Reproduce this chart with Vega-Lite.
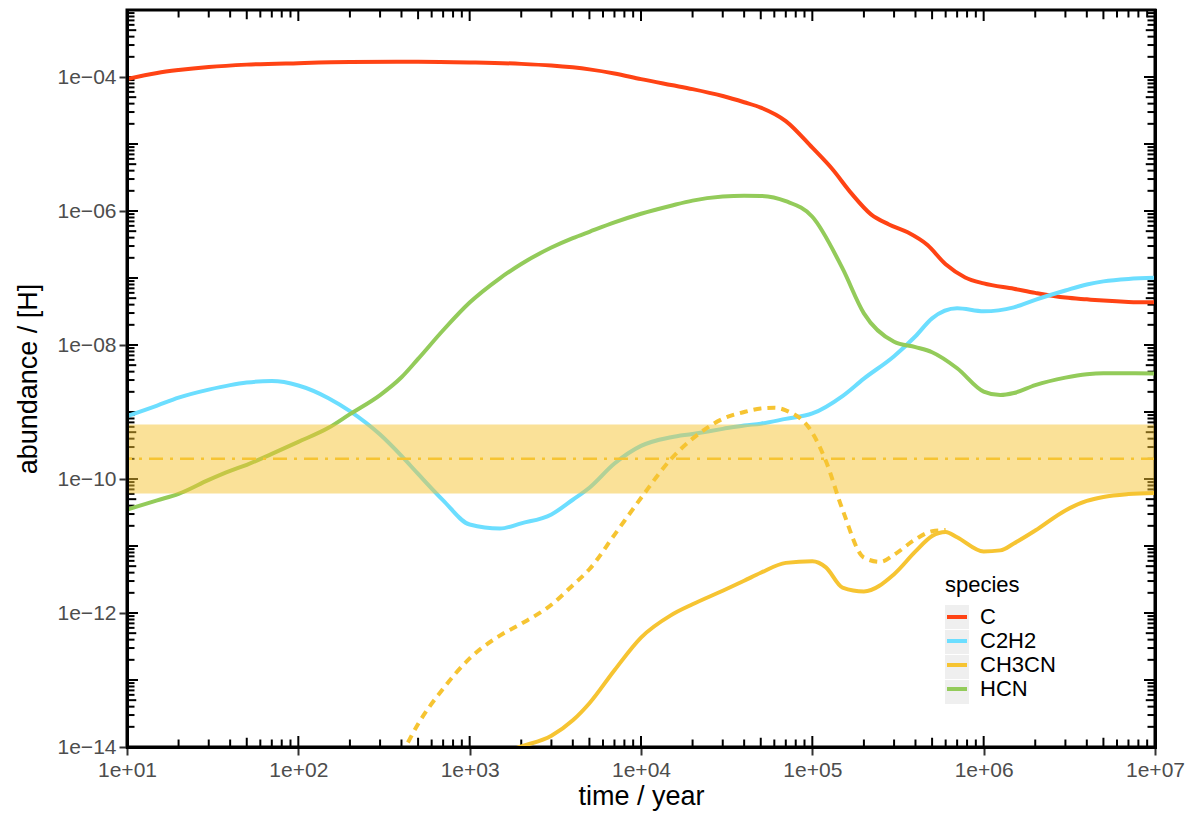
{
  "$schema": "https://vega.github.io/schema/vega-lite/v6.json",
  "width": 1028,
  "height": 737,
  "autosize": {"type": "none"},
  "padding": {"left": 127, "top": 10, "right": 44, "bottom": 67},
  "background": "white",
  "config": {"view": {"stroke": "black", "strokeWidth": 3}, "font": "Liberation Sans", "axis": {"grid": false}},
  "datasets": {
    "keys": [{"species": "C"}, {"species": "C2H2"}, {"species": "CH3CN"}, {"species": "HCN"}],
    "band": [{"lo": 6.1e-11, "hi": 6.5e-10, "mid": 2e-10}],
    "xticks": [
      {"v": 10, "k": "major"}, {"v": 20, "k": "minor"}, {"v": 30, "k": "minor"}, {"v": 40, "k": "minor"}, {"v": 50, "k": "medium"}, {"v": 60, "k": "minor"}, {"v": 70, "k": "minor"}, {"v": 80, "k": "minor"}, {"v": 90, "k": "minor"},
      {"v": 100, "k": "major"}, {"v": 200, "k": "minor"}, {"v": 300, "k": "minor"}, {"v": 400, "k": "minor"}, {"v": 500, "k": "medium"}, {"v": 600, "k": "minor"}, {"v": 700, "k": "minor"}, {"v": 800, "k": "minor"}, {"v": 900, "k": "minor"},
      {"v": 1000, "k": "major"}, {"v": 2000, "k": "minor"}, {"v": 3000, "k": "minor"}, {"v": 4000, "k": "minor"}, {"v": 5000, "k": "medium"}, {"v": 6000, "k": "minor"}, {"v": 7000, "k": "minor"}, {"v": 8000, "k": "minor"}, {"v": 9000, "k": "minor"},
      {"v": 10000, "k": "major"}, {"v": 20000, "k": "minor"}, {"v": 30000, "k": "minor"}, {"v": 40000, "k": "minor"}, {"v": 50000, "k": "medium"}, {"v": 60000, "k": "minor"}, {"v": 70000, "k": "minor"}, {"v": 80000, "k": "minor"}, {"v": 90000, "k": "minor"},
      {"v": 100000, "k": "major"}, {"v": 200000, "k": "minor"}, {"v": 300000, "k": "minor"}, {"v": 400000, "k": "minor"}, {"v": 500000, "k": "medium"}, {"v": 600000, "k": "minor"}, {"v": 700000, "k": "minor"}, {"v": 800000, "k": "minor"}, {"v": 900000, "k": "minor"},
      {"v": 1000000, "k": "major"}, {"v": 2000000, "k": "minor"}, {"v": 3000000, "k": "minor"}, {"v": 4000000, "k": "minor"}, {"v": 5000000, "k": "medium"}, {"v": 6000000, "k": "minor"}, {"v": 7000000, "k": "minor"}, {"v": 8000000, "k": "minor"}, {"v": 9000000, "k": "minor"},
      {"v": 10000000, "k": "major"}
    ],
    "yticks": [
      {"v": 1e-14, "k": "major"}, {"v": 2e-14, "k": "minor"}, {"v": 3e-14, "k": "minor"}, {"v": 4e-14, "k": "minor"}, {"v": 5e-14, "k": "medium"}, {"v": 6e-14, "k": "minor"}, {"v": 7e-14, "k": "minor"}, {"v": 8e-14, "k": "minor"}, {"v": 9e-14, "k": "minor"},
      {"v": 1e-13, "k": "major"}, {"v": 2e-13, "k": "minor"}, {"v": 3e-13, "k": "minor"}, {"v": 4e-13, "k": "minor"}, {"v": 5e-13, "k": "medium"}, {"v": 6e-13, "k": "minor"}, {"v": 7e-13, "k": "minor"}, {"v": 8e-13, "k": "minor"}, {"v": 9e-13, "k": "minor"},
      {"v": 1e-12, "k": "major"}, {"v": 2e-12, "k": "minor"}, {"v": 3e-12, "k": "minor"}, {"v": 4e-12, "k": "minor"}, {"v": 5e-12, "k": "medium"}, {"v": 6e-12, "k": "minor"}, {"v": 7e-12, "k": "minor"}, {"v": 8e-12, "k": "minor"}, {"v": 9e-12, "k": "minor"},
      {"v": 1e-11, "k": "major"}, {"v": 2e-11, "k": "minor"}, {"v": 3e-11, "k": "minor"}, {"v": 4e-11, "k": "minor"}, {"v": 5e-11, "k": "medium"}, {"v": 6e-11, "k": "minor"}, {"v": 7e-11, "k": "minor"}, {"v": 8e-11, "k": "minor"}, {"v": 9e-11, "k": "minor"},
      {"v": 1e-10, "k": "major"}, {"v": 2e-10, "k": "minor"}, {"v": 3e-10, "k": "minor"}, {"v": 4e-10, "k": "minor"}, {"v": 5e-10, "k": "medium"}, {"v": 6e-10, "k": "minor"}, {"v": 7e-10, "k": "minor"}, {"v": 8e-10, "k": "minor"}, {"v": 9e-10, "k": "minor"},
      {"v": 1e-9, "k": "major"}, {"v": 2e-9, "k": "minor"}, {"v": 3e-9, "k": "minor"}, {"v": 4e-9, "k": "minor"}, {"v": 5e-9, "k": "medium"}, {"v": 6e-9, "k": "minor"}, {"v": 7e-9, "k": "minor"}, {"v": 8e-9, "k": "minor"}, {"v": 9e-9, "k": "minor"},
      {"v": 1e-8, "k": "major"}, {"v": 2e-8, "k": "minor"}, {"v": 3e-8, "k": "minor"}, {"v": 4e-8, "k": "minor"}, {"v": 5e-8, "k": "medium"}, {"v": 6e-8, "k": "minor"}, {"v": 7e-8, "k": "minor"}, {"v": 8e-8, "k": "minor"}, {"v": 9e-8, "k": "minor"},
      {"v": 1e-7, "k": "major"}, {"v": 2e-7, "k": "minor"}, {"v": 3e-7, "k": "minor"}, {"v": 4e-7, "k": "minor"}, {"v": 5e-7, "k": "medium"}, {"v": 6e-7, "k": "minor"}, {"v": 7e-7, "k": "minor"}, {"v": 8e-7, "k": "minor"}, {"v": 9e-7, "k": "minor"},
      {"v": 1e-6, "k": "major"}, {"v": 2e-6, "k": "minor"}, {"v": 3e-6, "k": "minor"}, {"v": 4e-6, "k": "minor"}, {"v": 5e-6, "k": "medium"}, {"v": 6e-6, "k": "minor"}, {"v": 7e-6, "k": "minor"}, {"v": 8e-6, "k": "minor"}, {"v": 9e-6, "k": "minor"},
      {"v": 1e-5, "k": "major"}, {"v": 2e-5, "k": "minor"}, {"v": 3e-5, "k": "minor"}, {"v": 4e-5, "k": "minor"}, {"v": 5e-5, "k": "medium"}, {"v": 6e-5, "k": "minor"}, {"v": 7e-5, "k": "minor"}, {"v": 8e-5, "k": "minor"}, {"v": 9e-5, "k": "minor"},
      {"v": 1e-4, "k": "major"}, {"v": 2e-4, "k": "minor"}, {"v": 3e-4, "k": "minor"}, {"v": 4e-4, "k": "minor"}, {"v": 5e-4, "k": "medium"}, {"v": 6e-4, "k": "minor"}, {"v": 7e-4, "k": "minor"}, {"v": 8e-4, "k": "minor"}, {"v": 9e-4, "k": "minor"},
      {"v": 1e-3, "k": "major"}
    ],
    "curves": [
      {"species": "C", "run": "main", "t": 10, "a": 9.3e-5},
      {"species": "C", "run": "main", "t": 15, "a": 1.15e-4},
      {"species": "C", "run": "main", "t": 20, "a": 1.27e-4},
      {"species": "C", "run": "main", "t": 30, "a": 1.41e-4},
      {"species": "C", "run": "main", "t": 50, "a": 1.53e-4},
      {"species": "C", "run": "main", "t": 100, "a": 1.61e-4},
      {"species": "C", "run": "main", "t": 200, "a": 1.67e-4},
      {"species": "C", "run": "main", "t": 500, "a": 1.69e-4},
      {"species": "C", "run": "main", "t": 1000, "a": 1.65e-4},
      {"species": "C", "run": "main", "t": 2000, "a": 1.57e-4},
      {"species": "C", "run": "main", "t": 3000, "a": 1.48e-4},
      {"species": "C", "run": "main", "t": 5000, "a": 1.3e-4},
      {"species": "C", "run": "main", "t": 7000, "a": 1.13e-4},
      {"species": "C", "run": "main", "t": 10000, "a": 9.3e-5},
      {"species": "C", "run": "main", "t": 15000, "a": 7.6e-5},
      {"species": "C", "run": "main", "t": 20000, "a": 6.6e-5},
      {"species": "C", "run": "main", "t": 30000, "a": 5.2e-5},
      {"species": "C", "run": "main", "t": 40000, "a": 4.2e-5},
      {"species": "C", "run": "main", "t": 50000, "a": 3.5e-5},
      {"species": "C", "run": "main", "t": 70000, "a": 2.2e-5},
      {"species": "C", "run": "main", "t": 100000, "a": 8.8e-6},
      {"species": "C", "run": "main", "t": 130000, "a": 4.3e-6},
      {"species": "C", "run": "main", "t": 170000, "a": 1.8e-6},
      {"species": "C", "run": "main", "t": 220000, "a": 8.9e-7},
      {"species": "C", "run": "main", "t": 280000, "a": 6.3e-7},
      {"species": "C", "run": "main", "t": 360000, "a": 4.8e-7},
      {"species": "C", "run": "main", "t": 470000, "a": 3.1e-7},
      {"species": "C", "run": "main", "t": 600000, "a": 1.6e-7},
      {"species": "C", "run": "main", "t": 780000, "a": 1.02e-7},
      {"species": "C", "run": "main", "t": 1000000, "a": 8.3e-8},
      {"species": "C", "run": "main", "t": 1500000, "a": 6.9e-8},
      {"species": "C", "run": "main", "t": 2000000, "a": 6.0e-8},
      {"species": "C", "run": "main", "t": 3000000, "a": 5.1e-8},
      {"species": "C", "run": "main", "t": 4000000, "a": 4.8e-8},
      {"species": "C", "run": "main", "t": 5000000, "a": 4.6e-8},
      {"species": "C", "run": "main", "t": 7000000, "a": 4.4e-8},
      {"species": "C", "run": "main", "t": 10000000, "a": 4.33e-8},

      {"species": "C2H2", "run": "main", "t": 10, "a": 8.7e-10},
      {"species": "C2H2", "run": "main", "t": 15, "a": 1.25e-9},
      {"species": "C2H2", "run": "main", "t": 20, "a": 1.64e-9},
      {"species": "C2H2", "run": "main", "t": 30, "a": 2.16e-9},
      {"species": "C2H2", "run": "main", "t": 40, "a": 2.52e-9},
      {"species": "C2H2", "run": "main", "t": 50, "a": 2.75e-9},
      {"species": "C2H2", "run": "main", "t": 70, "a": 2.89e-9},
      {"species": "C2H2", "run": "main", "t": 100, "a": 2.49e-9},
      {"species": "C2H2", "run": "main", "t": 150, "a": 1.61e-9},
      {"species": "C2H2", "run": "main", "t": 200, "a": 1.03e-9},
      {"species": "C2H2", "run": "main", "t": 300, "a": 4.6e-10},
      {"species": "C2H2", "run": "main", "t": 400, "a": 2.21e-10},
      {"species": "C2H2", "run": "main", "t": 500, "a": 1.19e-10},
      {"species": "C2H2", "run": "main", "t": 700, "a": 4.8e-11},
      {"species": "C2H2", "run": "main", "t": 1000, "a": 2.09e-11},
      {"species": "C2H2", "run": "main", "t": 1500, "a": 1.82e-11},
      {"species": "C2H2", "run": "main", "t": 2000, "a": 2.18e-11},
      {"species": "C2H2", "run": "main", "t": 3000, "a": 2.96e-11},
      {"species": "C2H2", "run": "main", "t": 4000, "a": 4.9e-11},
      {"species": "C2H2", "run": "main", "t": 5000, "a": 7.4e-11},
      {"species": "C2H2", "run": "main", "t": 7000, "a": 1.7e-10},
      {"species": "C2H2", "run": "main", "t": 10000, "a": 3.12e-10},
      {"species": "C2H2", "run": "main", "t": 15000, "a": 4.2e-10},
      {"species": "C2H2", "run": "main", "t": 20000, "a": 4.7e-10},
      {"species": "C2H2", "run": "main", "t": 30000, "a": 5.6e-10},
      {"species": "C2H2", "run": "main", "t": 40000, "a": 6.3e-10},
      {"species": "C2H2", "run": "main", "t": 50000, "a": 6.7e-10},
      {"species": "C2H2", "run": "main", "t": 70000, "a": 7.9e-10},
      {"species": "C2H2", "run": "main", "t": 100000, "a": 9.5e-10},
      {"species": "C2H2", "run": "main", "t": 150000, "a": 1.73e-9},
      {"species": "C2H2", "run": "main", "t": 200000, "a": 3.15e-9},
      {"species": "C2H2", "run": "main", "t": 300000, "a": 6.8e-9},
      {"species": "C2H2", "run": "main", "t": 400000, "a": 1.35e-8},
      {"species": "C2H2", "run": "main", "t": 500000, "a": 2.5e-8},
      {"species": "C2H2", "run": "main", "t": 700000, "a": 3.53e-8},
      {"species": "C2H2", "run": "main", "t": 1000000, "a": 3.18e-8},
      {"species": "C2H2", "run": "main", "t": 1500000, "a": 3.65e-8},
      {"species": "C2H2", "run": "main", "t": 2000000, "a": 4.72e-8},
      {"species": "C2H2", "run": "main", "t": 3000000, "a": 6.5e-8},
      {"species": "C2H2", "run": "main", "t": 4000000, "a": 8.0e-8},
      {"species": "C2H2", "run": "main", "t": 5000000, "a": 8.9e-8},
      {"species": "C2H2", "run": "main", "t": 7000000, "a": 9.7e-8},
      {"species": "C2H2", "run": "main", "t": 10000000, "a": 1.01e-7},

      {"species": "CH3CN", "run": "main", "t": 1800, "a": 9.3e-15},
      {"species": "CH3CN", "run": "main", "t": 2000, "a": 1.02e-14},
      {"species": "CH3CN", "run": "main", "t": 3000, "a": 1.47e-14},
      {"species": "CH3CN", "run": "main", "t": 4000, "a": 2.5e-14},
      {"species": "CH3CN", "run": "main", "t": 5000, "a": 4.5e-14},
      {"species": "CH3CN", "run": "main", "t": 7000, "a": 1.4e-13},
      {"species": "CH3CN", "run": "main", "t": 10000, "a": 4.3e-13},
      {"species": "CH3CN", "run": "main", "t": 15000, "a": 9.3e-13},
      {"species": "CH3CN", "run": "main", "t": 20000, "a": 1.35e-12},
      {"species": "CH3CN", "run": "main", "t": 30000, "a": 2.15e-12},
      {"species": "CH3CN", "run": "main", "t": 40000, "a": 3.03e-12},
      {"species": "CH3CN", "run": "main", "t": 50000, "a": 3.99e-12},
      {"species": "CH3CN", "run": "main", "t": 70000, "a": 5.6e-12},
      {"species": "CH3CN", "run": "main", "t": 100000, "a": 5.9e-12},
      {"species": "CH3CN", "run": "main", "t": 120000, "a": 4.8e-12},
      {"species": "CH3CN", "run": "main", "t": 150000, "a": 2.4e-12},
      {"species": "CH3CN", "run": "main", "t": 200000, "a": 2.1e-12},
      {"species": "CH3CN", "run": "main", "t": 300000, "a": 3.8e-12},
      {"species": "CH3CN", "run": "main", "t": 400000, "a": 8.3e-12},
      {"species": "CH3CN", "run": "main", "t": 500000, "a": 1.41e-11},
      {"species": "CH3CN", "run": "main", "t": 600000, "a": 1.62e-11},
      {"species": "CH3CN", "run": "main", "t": 700000, "a": 1.35e-11},
      {"species": "CH3CN", "run": "main", "t": 1000000, "a": 8.3e-12},
      {"species": "CH3CN", "run": "main", "t": 1250000, "a": 8.6e-12},
      {"species": "CH3CN", "run": "main", "t": 1500000, "a": 1.09e-11},
      {"species": "CH3CN", "run": "main", "t": 2000000, "a": 1.7e-11},
      {"species": "CH3CN", "run": "main", "t": 3000000, "a": 3.4e-11},
      {"species": "CH3CN", "run": "main", "t": 4000000, "a": 4.7e-11},
      {"species": "CH3CN", "run": "main", "t": 5000000, "a": 5.4e-11},
      {"species": "CH3CN", "run": "main", "t": 7000000, "a": 5.96e-11},
      {"species": "CH3CN", "run": "main", "t": 10000000, "a": 6.2e-11},

      {"species": "HCN", "run": "main", "t": 10, "a": 3.5e-11},
      {"species": "HCN", "run": "main", "t": 15, "a": 4.8e-11},
      {"species": "HCN", "run": "main", "t": 20, "a": 6.0e-11},
      {"species": "HCN", "run": "main", "t": 30, "a": 9.7e-11},
      {"species": "HCN", "run": "main", "t": 40, "a": 1.32e-10},
      {"species": "HCN", "run": "main", "t": 50, "a": 1.63e-10},
      {"species": "HCN", "run": "main", "t": 70, "a": 2.37e-10},
      {"species": "HCN", "run": "main", "t": 100, "a": 3.58e-10},
      {"species": "HCN", "run": "main", "t": 150, "a": 5.8e-10},
      {"species": "HCN", "run": "main", "t": 200, "a": 9.3e-10},
      {"species": "HCN", "run": "main", "t": 300, "a": 1.79e-9},
      {"species": "HCN", "run": "main", "t": 400, "a": 3.3e-9},
      {"species": "HCN", "run": "main", "t": 500, "a": 6.2e-9},
      {"species": "HCN", "run": "main", "t": 700, "a": 1.66e-8},
      {"species": "HCN", "run": "main", "t": 1000, "a": 4.3e-8},
      {"species": "HCN", "run": "main", "t": 1500, "a": 9.9e-8},
      {"species": "HCN", "run": "main", "t": 2000, "a": 1.62e-7},
      {"species": "HCN", "run": "main", "t": 3000, "a": 2.85e-7},
      {"species": "HCN", "run": "main", "t": 4000, "a": 3.94e-7},
      {"species": "HCN", "run": "main", "t": 5000, "a": 4.9e-7},
      {"species": "HCN", "run": "main", "t": 7000, "a": 6.76e-7},
      {"species": "HCN", "run": "main", "t": 10000, "a": 9.1e-7},
      {"species": "HCN", "run": "main", "t": 15000, "a": 1.2e-6},
      {"species": "HCN", "run": "main", "t": 20000, "a": 1.43e-6},
      {"species": "HCN", "run": "main", "t": 30000, "a": 1.64e-6},
      {"species": "HCN", "run": "main", "t": 40000, "a": 1.69e-6},
      {"species": "HCN", "run": "main", "t": 50000, "a": 1.68e-6},
      {"species": "HCN", "run": "main", "t": 70000, "a": 1.4e-6},
      {"species": "HCN", "run": "main", "t": 100000, "a": 8.2e-7},
      {"species": "HCN", "run": "main", "t": 150000, "a": 1.39e-7},
      {"species": "HCN", "run": "main", "t": 200000, "a": 2.97e-8},
      {"species": "HCN", "run": "main", "t": 300000, "a": 1.12e-8},
      {"species": "HCN", "run": "main", "t": 400000, "a": 9.3e-9},
      {"species": "HCN", "run": "main", "t": 500000, "a": 7.8e-9},
      {"species": "HCN", "run": "main", "t": 700000, "a": 4.5e-9},
      {"species": "HCN", "run": "main", "t": 1000000, "a": 2.02e-9},
      {"species": "HCN", "run": "main", "t": 1250000, "a": 1.79e-9},
      {"species": "HCN", "run": "main", "t": 1500000, "a": 1.92e-9},
      {"species": "HCN", "run": "main", "t": 2000000, "a": 2.52e-9},
      {"species": "HCN", "run": "main", "t": 3000000, "a": 3.26e-9},
      {"species": "HCN", "run": "main", "t": 4000000, "a": 3.67e-9},
      {"species": "HCN", "run": "main", "t": 5000000, "a": 3.8e-9},
      {"species": "HCN", "run": "main", "t": 7000000, "a": 3.8e-9},
      {"species": "HCN", "run": "main", "t": 10000000, "a": 3.77e-9},

      {"species": "CH3CN", "run": "alt", "t": 400, "a": 7.6e-15},
      {"species": "CH3CN", "run": "alt", "t": 500, "a": 2.2e-14},
      {"species": "CH3CN", "run": "alt", "t": 700, "a": 7.4e-14},
      {"species": "CH3CN", "run": "alt", "t": 1000, "a": 2.1e-13},
      {"species": "CH3CN", "run": "alt", "t": 1500, "a": 4.6e-13},
      {"species": "CH3CN", "run": "alt", "t": 2000, "a": 6.9e-13},
      {"species": "CH3CN", "run": "alt", "t": 3000, "a": 1.33e-12},
      {"species": "CH3CN", "run": "alt", "t": 4000, "a": 2.6e-12},
      {"species": "CH3CN", "run": "alt", "t": 5000, "a": 4.5e-12},
      {"species": "CH3CN", "run": "alt", "t": 7000, "a": 1.47e-11},
      {"species": "CH3CN", "run": "alt", "t": 10000, "a": 5.2e-11},
      {"species": "CH3CN", "run": "alt", "t": 15000, "a": 2.0e-10},
      {"species": "CH3CN", "run": "alt", "t": 20000, "a": 4.0e-10},
      {"species": "CH3CN", "run": "alt", "t": 30000, "a": 7.9e-10},
      {"species": "CH3CN", "run": "alt", "t": 40000, "a": 1.0e-9},
      {"species": "CH3CN", "run": "alt", "t": 50000, "a": 1.13e-9},
      {"species": "CH3CN", "run": "alt", "t": 60000, "a": 1.16e-9},
      {"species": "CH3CN", "run": "alt", "t": 70000, "a": 1.06e-9},
      {"species": "CH3CN", "run": "alt", "t": 100000, "a": 4.9e-10},
      {"species": "CH3CN", "run": "alt", "t": 120000, "a": 1.85e-10},
      {"species": "CH3CN", "run": "alt", "t": 150000, "a": 3.5e-11},
      {"species": "CH3CN", "run": "alt", "t": 200000, "a": 6.7e-12},
      {"species": "CH3CN", "run": "alt", "t": 250000, "a": 5.8e-12},
      {"species": "CH3CN", "run": "alt", "t": 300000, "a": 7.4e-12},
      {"species": "CH3CN", "run": "alt", "t": 400000, "a": 1.26e-11},
      {"species": "CH3CN", "run": "alt", "t": 500000, "a": 1.66e-11},
      {"species": "CH3CN", "run": "alt", "t": 600000, "a": 1.73e-11}
    ]
  },
  "layer": [
    {
      "data": {"name": "keys"},
      "mark": {"type": "point", "shape": "square", "filled": true, "opacity": 0},
      "encoding": {
        "fill": {
          "field": "species", "type": "nominal",
          "scale": {"range": ["#EFEFEF", "#EFEFEF", "#EFEFEF", "#EFEFEF"]},
          "legend": {"orient": "none", "legendX": 818, "legendY": 565, "title": " ", "labelExpr": "''",
            "symbolType": "square", "symbolSize": 576, "symbolStrokeWidth": 0, "symbolOpacity": 1,
            "titleFontSize": 22, "titleFontWeight": "normal", "labelFontSize": 22, "rowPadding": 1, "titlePadding": 8, "labelOffset": 11, "padding": 0}
        }
      }
    },
    {
      "data": {"name": "xticks"},
      "mark": {"type": "tick", "orient": "vertical", "thickness": 2, "color": "black", "opacity": 1, "clip": true},
      "encoding": {
        "x": {"field": "v", "type": "quantitative", "axis": null},
        "y": {"datum": 1e-14, "type": "quantitative", "axis": null},
        "size": {"field": "k", "type": "nominal", "scale": {"domain": ["major", "medium", "minor"], "range": [22, 15, 10]}, "legend": null}
      }
    },
    {
      "data": {"name": "xticks"},
      "mark": {"type": "tick", "orient": "vertical", "thickness": 2, "color": "black", "opacity": 1, "clip": true},
      "encoding": {
        "x": {"field": "v", "type": "quantitative", "axis": null},
        "y": {"datum": 1e-3, "type": "quantitative", "axis": null},
        "size": {"field": "k", "type": "nominal", "legend": null}
      }
    },
    {
      "data": {"name": "yticks"},
      "mark": {"type": "tick", "orient": "horizontal", "thickness": 2, "color": "black", "opacity": 1, "clip": true},
      "encoding": {
        "y": {"field": "v", "type": "quantitative", "axis": null},
        "x": {"datum": 10, "type": "quantitative", "axis": null},
        "size": {"field": "k", "type": "nominal", "legend": null}
      }
    },
    {
      "data": {"name": "yticks"},
      "mark": {"type": "tick", "orient": "horizontal", "thickness": 2, "color": "black", "opacity": 1, "clip": true},
      "encoding": {
        "y": {"field": "v", "type": "quantitative", "axis": null},
        "x": {"datum": 10000000, "type": "quantitative", "axis": null},
        "size": {"field": "k", "type": "nominal", "legend": null}
      }
    },
    {
      "data": {"name": "curves"},
      "transform": [{"filter": "datum.run === 'main' && datum.species === 'C'"}],
      "mark": {"type": "line", "strokeWidth": 4, "clip": true, "interpolate": "monotone"},
      "encoding": {
        "x": {"field": "t", "type": "quantitative", "scale": {"type": "log", "domain": [10, 10000000], "nice": false},
          "axis": {"orient": "bottom", "values": [10, 100, 1000, 10000, 100000, 1000000, 10000000],
            "labelExpr": "'1e+0' + round(log(datum.value)/LN10)", "labelFontSize": 21, "labelColor": "#4D4D4D", "labelPadding": 4,
            "labelFlush": false, "labelOverlap": false, "tickSize": 8, "tickColor": "#333333", "tickWidth": 2,
            "domain": true, "domainColor": "black", "domainWidth": 3, "domainCap": "square",
            "title": "time / year", "titleFontSize": 27, "titleFontWeight": "normal", "titleColor": "black", "titlePadding": 3, "zindex": 1}},
        "y": {"field": "a", "type": "quantitative", "scale": {"type": "log", "domain": [1e-14, 1e-3], "nice": false},
          "axis": {"orient": "left", "values": [1e-14, 1e-12, 1e-10, 1e-8, 1e-6, 1e-4],
            "labelExpr": "'1e\u2212' + (round(-log(datum.value)/LN10) < 10 ? '0' : '') + round(-log(datum.value)/LN10)",
            "labelFontSize": 21, "labelColor": "#4D4D4D", "labelPadding": 3, "labelOverlap": false, "labelFlush": false,
            "tickSize": 8, "tickColor": "#333333", "tickWidth": 2,
            "domain": true, "domainColor": "black", "domainWidth": 3, "domainCap": "square",
            "title": "abundance / [H]", "titleFontSize": 27, "titleFontWeight": "normal", "titleColor": "black", "titlePadding": 15, "zindex": 1}},
        "stroke": {"field": "species", "type": "nominal",
          "scale": {"domain": ["C", "C2H2", "CH3CN", "HCN"], "range": ["#FF4314", "#6CDEFF", "#F6C432", "#93CB5A"]},
          "legend": {"orient": "none", "legendX": 818, "legendY": 565, "title": "species",
            "symbolType": "stroke", "symbolSize": 400, "symbolStrokeWidth": 4,
            "titleFontSize": 22, "titleFontWeight": "normal", "titleColor": "black", "labelFontSize": 22, "labelColor": "black",
            "rowPadding": 1, "titlePadding": 8, "labelOffset": 11, "padding": 0}}
      }
    },
    {
      "data": {"name": "curves"},
      "transform": [{"filter": "datum.run === 'main' && datum.species === 'C2H2'"}],
      "mark": {"type": "line", "strokeWidth": 4, "clip": true, "interpolate": "monotone"},
      "encoding": {
        "x": {"field": "t", "type": "quantitative", "axis": null},
        "y": {"field": "a", "type": "quantitative", "axis": null},
        "stroke": {"field": "species", "type": "nominal"}
      }
    },
    {
      "data": {"name": "curves"},
      "transform": [{"filter": "datum.run === 'main' && datum.species === 'CH3CN'"}],
      "mark": {"type": "line", "strokeWidth": 4, "clip": true, "interpolate": "monotone"},
      "encoding": {
        "x": {"field": "t", "type": "quantitative", "axis": null},
        "y": {"field": "a", "type": "quantitative", "axis": null},
        "stroke": {"field": "species", "type": "nominal"}
      }
    },
    {
      "data": {"name": "curves"},
      "transform": [{"filter": "datum.run === 'main' && datum.species === 'HCN'"}],
      "mark": {"type": "line", "strokeWidth": 4, "clip": true, "interpolate": "monotone"},
      "encoding": {
        "x": {"field": "t", "type": "quantitative", "axis": null},
        "y": {"field": "a", "type": "quantitative", "axis": null},
        "stroke": {"field": "species", "type": "nominal"}
      }
    },
    {
      "data": {"name": "band"},
      "mark": {"type": "rect", "color": "#F6C432", "opacity": 0.5},
      "encoding": {
        "y": {"field": "lo", "type": "quantitative",
          "axis": {"orient": "right", "values": [], "labels": false, "ticks": false, "title": null,
            "domain": true, "domainColor": "black", "domainWidth": 3, "domainCap": "square", "zindex": 1}},
        "y2": {"field": "hi"}
      }
    },
    {
      "data": {"name": "curves"},
      "transform": [{"filter": "datum.run === 'alt'"}],
      "mark": {"type": "line", "strokeWidth": 4, "stroke": "#F6C432", "strokeDash": [8, 6], "clip": true, "interpolate": "monotone"},
      "encoding": {
        "x": {"field": "t", "type": "quantitative", "axis": null},
        "y": {"field": "a", "type": "quantitative", "axis": null}
      }
    },
    {
      "data": {"name": "band"},
      "mark": {"type": "rule", "color": "#F6C432", "strokeWidth": 2.5, "strokeDash": [14, 7, 3, 7]},
      "encoding": {
        "y": {"field": "mid", "type": "quantitative", "axis": null}
      }
    }
  ],
  "resolve": {"axis": {"x": "independent", "y": "independent"}}
}
